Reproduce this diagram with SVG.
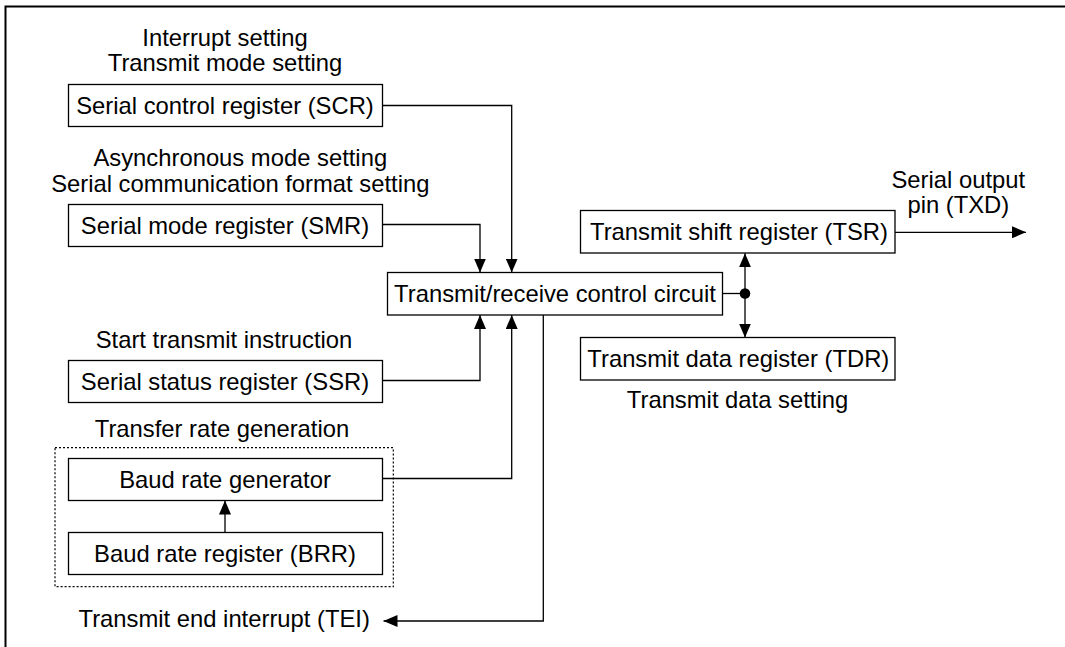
<svg xmlns="http://www.w3.org/2000/svg" width="1065" height="647" viewBox="0 0 1065 647">
<style>
  .box{fill:#fff;stroke:#000;stroke-width:1.3}
  .t{font-family:"Liberation Sans",Arial,sans-serif;font-size:23.8px;fill:#000;text-anchor:middle}
  .c{fill:none;stroke:#000;stroke-width:1.3}
</style>
<defs>
  <marker id="ah" viewBox="0 0 14 12" refX="14" refY="6" markerWidth="14" markerHeight="12" markerUnits="userSpaceOnUse" orient="auto">
    <path d="M0,0 L14,6 L0,12 z" fill="#000"/>
  </marker>
</defs>
<rect x="5.5" y="6.5" width="1200" height="800" fill="none" stroke="#000" stroke-width="2"/>

<g id="connectors">
  <path class="c" d="M382.5,105.5 H511.7 V272.5" marker-end="url(#ah)"/>
  <path class="c" d="M382.5,224.5 H480 V272.5" marker-end="url(#ah)"/>
  <path class="c" d="M382.5,380.5 H480 V315" marker-end="url(#ah)"/>
  <path class="c" d="M382.5,478.5 H511.7 V315" marker-end="url(#ah)"/>
  <path class="c" d="M225,532.5 V500.5" marker-end="url(#ah)"/>
  <path class="c" d="M543.3,315 V621 H383.5" marker-end="url(#ah)"/>
  <path class="c" d="M895,232.3 H1026" marker-end="url(#ah)"/>
  <path class="c" d="M722.5,293.5 H745"/>
  <path class="c" d="M745,293.5 V253.3" marker-end="url(#ah)"/>
  <path class="c" d="M745,293.5 V337.5" marker-end="url(#ah)"/>
  <circle cx="745" cy="293.5" r="5.3" fill="#000"/>
</g>

<g id="scr">
  <text class="t" x="225" y="45.7">Interrupt setting</text>
  <text class="t" x="225" y="71">Transmit mode setting</text>
  <rect class="box" x="68.5" y="84.5" width="314" height="42"/>
  <text class="t" x="225" y="113.5">Serial control register (SCR)</text>
</g>

<g id="smr">
  <text class="t" x="240.3" y="165.7">Asynchronous mode setting</text>
  <text class="t" x="240.3" y="191.7">Serial communication format setting</text>
  <rect class="box" x="68.5" y="204.5" width="314" height="42"/>
  <text class="t" x="225" y="233.5">Serial mode register (SMR)</text>
</g>

<g id="control">
  <rect class="box" x="387.5" y="272.5" width="335" height="42.5"/>
  <text class="t" x="555" y="302">Transmit/receive control circuit</text>
</g>

<g id="ssr">
  <text class="t" x="224" y="348">Start transmit instruction</text>
  <rect class="box" x="68.5" y="360.5" width="314" height="42"/>
  <text class="t" x="225" y="389.5">Serial status register (SSR)</text>
</g>

<g id="transfer-rate">
  <text class="t" x="222" y="436.7">Transfer rate generation</text>
  <rect x="55" y="447.7" width="338.3" height="139" fill="none" stroke="#000" stroke-width="1.2" stroke-dasharray="2,2"/>
</g>

<g id="brg">
  <rect class="box" x="68.5" y="458.5" width="314" height="42"/>
  <text class="t" x="225" y="487.5">Baud rate generator</text>
</g>

<g id="brr">
  <rect class="box" x="68.5" y="532.5" width="314" height="42"/>
  <text class="t" x="225" y="561.5">Baud rate register (BRR)</text>
</g>

<g id="tei">
  <text class="t" x="224.2" y="627.3">Transmit end interrupt (TEI)</text>
</g>

<g id="tsr">
  <rect class="box" x="580.5" y="210.5" width="314.5" height="42.5"/>
  <text class="t" x="739" y="240">Transmit shift register (TSR)</text>
</g>

<g id="txd">
  <text class="t" x="958.3" y="188.3">Serial output</text>
  <text class="t" x="958.3" y="213.3">pin (TXD)</text>
</g>

<g id="tdr">
  <rect class="box" x="580.5" y="337.5" width="314.5" height="42.5"/>
  <text class="t" x="738.3" y="367">Transmit data register (TDR)</text>
  <text class="t" x="737.5" y="408.3">Transmit data setting</text>
</g>
</svg>
